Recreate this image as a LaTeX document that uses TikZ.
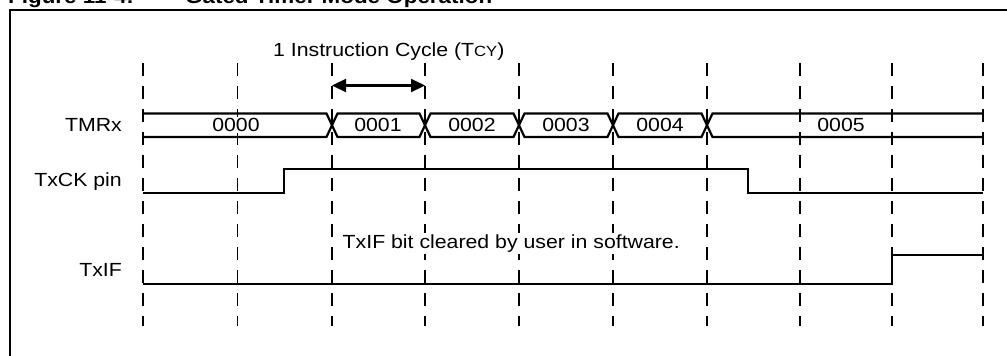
\documentclass[tikz,border=0pt]{standalone}
\usepackage{fontspec}
\setmainfont{Liberation Sans}[FakeStretch=1.12]
\usetikzlibrary{arrows.meta}
\begin{document}
\begin{tikzpicture}[x=1pt,y=-1pt,
  sig/.style={line width=2.2pt, line join=miter},
  gridline/.style={line width=1.8pt, dash pattern=on 13pt off 10pt},
  frame/.style={line width=2.7pt},
  lbl/.style={font=\fontsize{19}{19}\selectfont, inner sep=0pt},
  onlines/.style={fill=white, inner sep=1.5pt},
  ttl/.style={font=\bfseries\fontsize{20}{20}\selectfont, inner sep=0pt, anchor=base west},
  bothtips/.style={{Triangle[length=14pt,width=13pt]}-{Triangle[length=14pt,width=13pt]}}]
\useasboundingbox (0,0) rectangle (1007,356);
\clip (0,0) rectangle (1007,356);

% title (cut off at the top)
\node[ttl] (fig) at (8,3) {Figure 11-4:};
\node[ttl] (title) at (185,3) {Gated Timer Mode Operation};

% frame
\draw[frame] (10,360) -- (10,10) -- (1012,10);

% dashed time grid
\foreach \x in {143,237.5,332,425,519,613,707,800,892,983}
  \draw[gridline] (\x,63) -- (\x,326);

% labels
\node[lbl, anchor=base east] (tmrx) at (122,131) {TMRx};
\node[lbl, anchor=base east] (txck) at (122,186) {TxCK pin};
\node[lbl, anchor=base east] (txif) at (122,276) {TxIF};
\node[lbl, anchor=base west] (cyc) at (273,56.5) {1 Instruction Cycle (T{\fontsize{14.8}{14.8}\selectfont CY})};
\node[lbl, onlines, anchor=base west] (clr) at (341,248.5) {TxIF bit cleared by user in software.};

% TMRx bus
\def\T{113.5}\def\B{137}
\draw[sig] (143,\T)--(326.5,\T)--(337.5,\B)--(419.5,\B)--(430.5,\T)--(513.5,\T)--(524.5,\B)--(607.5,\B)--(618.5,\T)--(701.5,\T)--(712.5,\B)--(983,\B);
\draw[sig] (143,\B)--(326.5,\B)--(337.5,\T)--(419.5,\T)--(430.5,\B)--(513.5,\B)--(524.5,\T)--(607.5,\T)--(618.5,\B)--(701.5,\B)--(712.5,\T)--(983,\T);
\node[lbl, onlines, anchor=base] (v0) at (236,131.5) {0000};
\node[lbl, onlines, anchor=base] (v1) at (378,131.5) {0001};
\node[lbl, onlines, anchor=base] (v2) at (472,131.5) {0002};
\node[lbl, onlines, anchor=base] (v3) at (566,131.5) {0003};
\node[lbl, onlines, anchor=base] (v4) at (660,131.5) {0004};
\node[lbl, onlines, anchor=base] (v5) at (841,131.5) {0005};

% TxCK pin
\draw[sig] (143,193.3) -- (284,193.3) -- (284,169.3) -- (748,169.3) -- (748,193.3) -- (983,193.3);

% TxIF
\draw[sig] (143,283.7) -- (892,283.7) -- (892,254.7) -- (983,254.7);

% instruction cycle arrow
\coordinate (a1) at (332,85.5);
\coordinate (a2) at (425,85.5);
\draw[sig, bothtips] (a1) -- (a2);
\end{tikzpicture}
\end{document}
